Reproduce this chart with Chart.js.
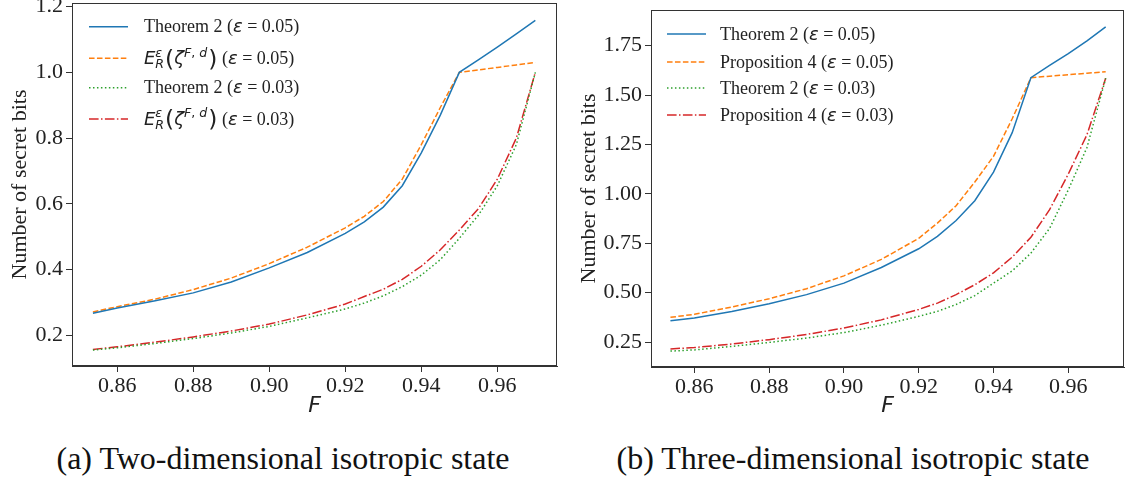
<!DOCTYPE html>
<html><head><meta charset="utf-8">
<script src="https://cdn.jsdelivr.net/npm/chart.js@4"></script>
<style>
html,body{margin:0;padding:0;background:#fff;width:1127px;height:482px;overflow:hidden;}
#wa{position:absolute;left:0;top:0;width:563px;height:425px;}
#wb{position:absolute;left:563px;top:0;width:564px;height:425px;}
.cap{position:absolute;top:440px;line-height:36px;font-family:"Liberation Serif",serif;font-size:32px;color:#111;white-space:nowrap;transform:translateX(-50%);}
</style></head><body>
<div id="wa"><canvas id="ca"></canvas></div>
<div id="wb"><canvas id="cb"></canvas></div>
<div class="cap" style="left:283px">(a) Two-dimensional isotropic state</div>
<div class="cap" style="left:853px">(b) Three-dimensional isotropic state</div>
<script>
// ---- data ----
const fidelity = [0.8536, 0.86, 0.87, 0.88, 0.89, 0.90, 0.91, 0.92, 0.925, 0.93, 0.935, 0.94, 0.945, 0.95, 0.955, 0.96, 0.965, 0.97];

const thm2Eps005A = [0.267, 0.283, 0.305, 0.329, 0.362, 0.405, 0.452, 0.51, 0.545, 0.59, 0.655, 0.755, 0.87, 1.0, 1.038, 1.077, 1.117, 1.158];
const relEntEps005A = [0.271, 0.287, 0.31, 0.339, 0.374, 0.418, 0.468, 0.527, 0.562, 0.607, 0.675, 0.78, 0.893, 1.0, 1.0075, 1.015, 1.0225, 1.03];
const thm2Eps003A = [0.155, 0.162, 0.175, 0.190, 0.207, 0.227, 0.253, 0.280, 0.298, 0.320, 0.348, 0.383, 0.43, 0.495, 0.565, 0.655, 0.78, 1.0];
const relEntEps003A = [0.157, 0.165, 0.179, 0.195, 0.213, 0.234, 0.262, 0.295, 0.318, 0.340, 0.370, 0.410, 0.46, 0.52, 0.585, 0.675, 0.80, 1.0];

const thm2Eps005B = [0.358, 0.372, 0.405, 0.444, 0.49, 0.548, 0.627, 0.722, 0.785, 0.865, 0.965, 1.11, 1.31, 1.588, 1.65, 1.71, 1.775, 1.845];
const prop4Eps005B = [0.375, 0.39, 0.427, 0.469, 0.52, 0.585, 0.668, 0.775, 0.852, 0.94, 1.06, 1.19, 1.38, 1.588, 1.596, 1.603, 1.611, 1.618];
const thm2Eps003B = [0.204, 0.21, 0.228, 0.248, 0.27, 0.298, 0.335, 0.38, 0.405, 0.44, 0.485, 0.548, 0.61, 0.70, 0.825, 1.02, 1.235, 1.585];
const prop4Eps003B = [0.215, 0.222, 0.24, 0.262, 0.288, 0.321, 0.362, 0.415, 0.447, 0.49, 0.54, 0.60, 0.68, 0.78, 0.92, 1.10, 1.30, 1.585];

const labelsA = ['Theorem 2 ($ε$ = 0.05)', '$E_R^ε(ζ^{F, d})$ ($ε$ = 0.05)', 'Theorem 2 ($ε$ = 0.03)', '$E_R^ε(ζ^{F, d})$ ($ε$ = 0.03)'];
const labelsB = ['Theorem 2 ($ε$ = 0.05)', 'Proposition 4 ($ε$ = 0.05)', 'Theorem 2 ($ε$ = 0.03)', 'Proposition 4 ($ε$ = 0.03)'];

const xTicks = [0.86, 0.88, 0.90, 0.92, 0.94, 0.96];
const yTicksA = [0.2, 0.4, 0.6, 0.8, 1.0, 1.2];
const yTicksB = [0.25, 0.50, 0.75, 1.00, 1.25, 1.50, 1.75];

const xTitle = 'F';
const yTitle = 'Number of secret bits';

// ---- styling ----
const COLORS = ['#1f77b4', '#ff7f0e', '#2ca02c', '#d62728'];
const DASHES = [[], [5.55, 2.4], [1.5, 2.475], [9.6, 2.4, 1.5, 2.4]];
const TXT = '#222';
const SPINE = '#333';
const SERIF = 'Liberation Serif';
Chart.defaults.font.family = SERIF;

function pts(ys) { return fidelity.map((f, i) => ({x: f, y: ys[i]})); }

function drawRich(ctx, str, x, baseY, size) {
  let math = false, i = 0;
  const serif = size + 'px "Liberation Serif"';
  const mfont = (s, it) => (it ? 'italic ' : '') + s + 'px "DejaVu Sans"';
  const run = (s, x0, y, sz) => {
    let w = 0;
    for (const ch of s) {
      ctx.font = mfont(sz, /[A-Za-zεζ]/.test(ch));
      ctx.fillText(ch, x0 + w, y);
      w += ctx.measureText(ch).width;
    }
    return w;
  };
  let buf = '';
  const flush = () => { if (buf) { ctx.font = serif; ctx.fillText(buf, x, baseY); x += ctx.measureText(buf).width; buf = ''; } };
  while (i < str.length) {
    const c = str[i];
    if (c === '$') { flush(); math = !math; i++; continue; }
    if (!math) { buf += c; i++; continue; }
    if (c === '_' || c === '^') {
      let sub = null, sup = null;
      while (i < str.length && (str[i] === '_' || str[i] === '^')) {
        const kind = str[i]; i++;
        let g;
        if (str[i] === '{') { const j = str.indexOf('}', i); g = str.slice(i + 1, j); i = j + 1; }
        else { g = str[i]; i++; }
        if (kind === '_') sub = g; else sup = g;
      }
      const ss = size * 0.7;
      let w = 0;
      if (sup) w = Math.max(w, run(sup, x, baseY - size * 0.42, ss));
      if (sub) w = Math.max(w, run(sub, x, baseY + size * 0.22, ss));
      x += w + 1;
      continue;
    }
    if (c === '(' || c === ')') {
      ctx.font = mfont(size * 1.3, false);
      ctx.fillText(c, x, baseY + size * 0.14);
      x += ctx.measureText(c).width;
      i++; continue;
    }
    x += run(c, x, baseY, size);
    i++;
  }
  flush();
}

const framePlugin = {
  id: 'frame',
  afterDraw(chart) {
    const {ctx, chartArea: a} = chart;
    ctx.save();
    ctx.strokeStyle = SPINE; ctx.lineWidth = 1;
    ctx.strokeRect(Math.round(a.left) + 0.5, Math.round(a.top) + 0.5, Math.round(a.right - a.left) - 1, Math.round(a.bottom - a.top) - 1);
    ctx.restore();
  }
};

const legendPlugin = {
  id: 'richLegend',
  afterDraw(chart, args, opts) {
    const ctx = chart.ctx;
    ctx.save();
    chart.data.datasets.forEach((ds, k) => {
      const y = opts.rows[k];
      ctx.strokeStyle = ds.borderColor; ctx.lineWidth = ds.borderWidth;
      ctx.setLineDash(ds.borderDash || []);
      ctx.beginPath(); ctx.moveTo(opts.x0, y); ctx.lineTo(opts.x1, y); ctx.stroke();
      ctx.setLineDash([]);
      ctx.fillStyle = TXT; ctx.textBaseline = 'alphabetic'; ctx.textAlign = 'left';
      drawRich(ctx, ds.label, opts.tx, y + opts.size * 0.32, opts.size);
    });
    ctx.restore();
  }
};

function makeChart(id, series, labels, yTicks, yMin, yMax, xMin, xMax, cfg) {
  const datasets = series.map((s, k) => ({
    label: labels[k], data: pts(s), borderColor: COLORS[k], backgroundColor: COLORS[k],
    borderWidth: 1.5, borderDash: DASHES[k], pointRadius: 0, tension: 0, fill: false
  }));
  return new Chart(document.getElementById(id), {
    type: 'line',
    data: {datasets},
    options: {
      responsive: true, maintainAspectRatio: false, animation: false, devicePixelRatio: 1,
      layout: {padding: cfg.pad},
      plugins: {legend: {display: false}, tooltip: {enabled: false},
        richLegend: {rows: cfg.rows, x0: cfg.lx0, x1: cfg.lx1, tx: cfg.tx, size: 18}},
      scales: {
        x: {
          type: 'linear', min: xMin, max: xMax,
          afterBuildTicks: s => { s.ticks = xTicks.map(v => ({value: v})); },
          afterFit: s => { s.height = cfg.xh; s.paddingLeft = 0; s.paddingRight = 0; },
          ticks: {color: TXT, font: {family: SERIF, size: 22}, padding: 1, maxRotation: 0,
                  callback: v => Number(v).toFixed(2)},
          grid: {display: true, drawOnChartArea: false, drawTicks: true, tickLength: 6, color: SPINE},
          border: {display: true, color: SPINE},
          title: {display: true, text: xTitle, color: TXT, font: {family: 'DejaVu Sans', style: 'italic', size: 22},
                  padding: {top: 0, bottom: 6}}
        },
        y: {
          type: 'linear', min: yMin, max: yMax,
          afterBuildTicks: s => { s.ticks = yTicks.map(v => ({value: v})); },
          afterFit: s => { s.width = cfg.yw; s.paddingTop = 0; s.paddingBottom = 0; },
          ticks: {color: TXT, font: {family: SERIF, size: 22}, padding: 3,
                  callback: v => Number(v).toFixed(cfg.yDec)},
          grid: {display: true, drawOnChartArea: false, drawTicks: true, tickLength: 6, color: SPINE},
          border: {display: true, color: SPINE},
          title: {display: true, text: yTitle, color: TXT, font: {family: SERIF, size: 22},
                  padding: {top: cfg.ytp, bottom: 0}}
        }
      }
    },
    plugins: [framePlugin, legendPlugin]
  });
}

makeChart('ca', [thm2Eps005A, relEntEps005A, thm2Eps003A, relEntEps003A], labelsA, yTicksA,
  0.1065, 1.211, 0.8481, 0.9757,
  {pad: {left: 0, top: 3, right: 6, bottom: 0}, xh: 59, yw: 72, yDec: 1, ytp: 7,
   rows: [26.7, 58.3, 87.7, 119], lx0: 89, lx1: 128, tx: 144});

makeChart('cb', [thm2Eps005B, prop4Eps005B, thm2Eps003B, prop4Eps003B], labelsB, yTicksB,
  0.1235, 1.9308, 0.8484, 0.9749,
  {pad: {left: 0, top: 10, right: 3, bottom: 0}, xh: 58, yw: 88, yDec: 2, ytp: 13,
   rows: [34, 62, 88, 115], lx0: 104, lx1: 143, tx: 157});
</script>
</body></html>
